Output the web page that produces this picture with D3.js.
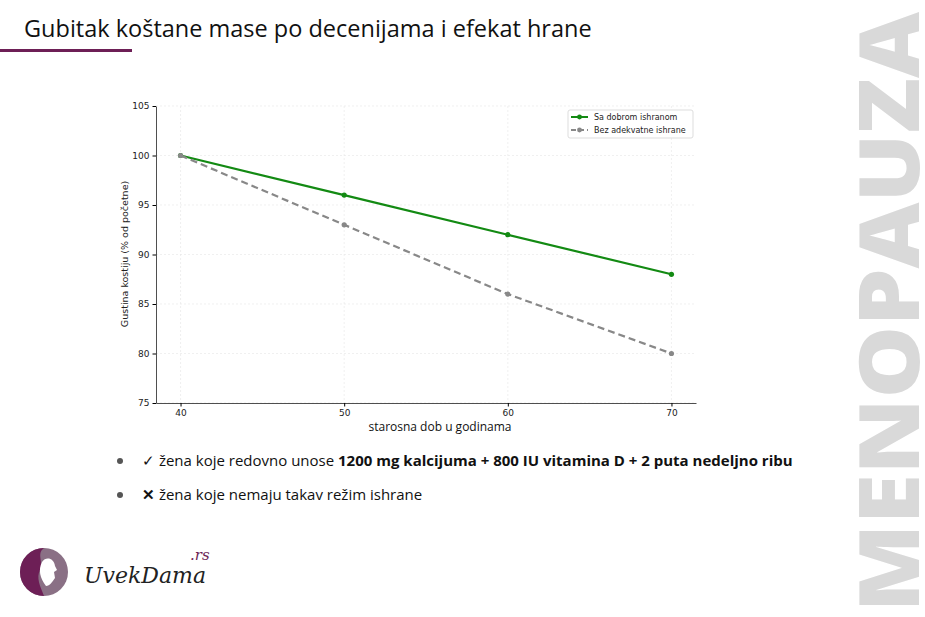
<!DOCTYPE html>
<html><head><meta charset="utf-8">
<script src="https://cdn.jsdelivr.net/npm/d3@7"></script>
<style>body{margin:0;background:#fff;font-family:"Open Sans",sans-serif}</style>
</head><body>
<svg id="c" width="925" height="617"></svg>
<script>
const ages = [40, 50, 60, 70];
const goodDiet = [100, 96, 92, 88];
const poorDiet = [100, 93, 86, 80];
const yTicks = [75, 80, 85, 90, 95, 100, 105];
const seriesNames = ["Sa dobrom ishranom", "Bez adekvatne ishrane"];

const svg = d3.select("#c");
const purple = "#6d1f56";

// header
svg.append("text").attr("x", 24).attr("y", 37).attr("font-size", 23.5).attr("fill", "#111")
  .text("Gubitak koštane mase po decenijama i efekat hrane");
svg.append("rect").attr("x", 0).attr("y", 49).attr("width", 132).attr("height", 3).attr("fill", purple);

// side word (bleeds off the right edge like the original)
svg.append("text").attr("transform", "translate(919,612) rotate(-90)")
  .attr("font-size", 84).attr("font-weight", 800).attr("fill", "#d9d9d9")
  .attr("font-family", "Open Sans").attr("textLength", 600).attr("lengthAdjust", "spacingAndGlyphs")
  .text("MENOPAUZA");

// chart
const x = d3.scaleLinear().domain([38.5, 71.5]).range([156, 696]);
const y = d3.scaleLinear().domain([75, 105]).range([403, 106]);
const g = svg.append("g").attr("font-family", "DejaVu Sans");

g.append("g").selectAll("line").data(yTicks).join("line")
  .attr("x1", 156).attr("x2", 696).attr("y1", d => y(d)).attr("y2", d => y(d))
  .attr("stroke", "#e6e6e6").attr("stroke-width", 0.6).attr("stroke-dasharray", "2,2");
g.append("g").selectAll("line").data(ages).join("line")
  .attr("x1", d => x(d)).attr("x2", d => x(d)).attr("y1", 106).attr("y2", 403)
  .attr("stroke", "#e6e6e6").attr("stroke-width", 0.6).attr("stroke-dasharray", "2,2");

const xa = g.append("g").attr("transform", "translate(0,403)")
  .call(d3.axisBottom(x).tickValues(ages).tickSize(3.5).tickSizeOuter(0));
const ya = g.append("g").attr("transform", "translate(156,0)")
  .call(d3.axisLeft(y).tickValues(yTicks).tickSize(3.5).tickSizeOuter(0));
[xa, ya].forEach(a => { a.selectAll("text").attr("font-size", 9).attr("fill", "#222").attr("font-family", "DejaVu Sans");
  a.select(".domain").attr("stroke", "#222").attr("stroke-width", 0.8); });
g.append("text").attr("x", 440).attr("y", 431).attr("text-anchor", "middle").attr("font-size", 12)
  .attr("font-family", "Open Sans").attr("fill", "#111").text("starosna dob u godinama");
g.append("text").attr("transform", "translate(128,254) rotate(-90)").attr("text-anchor", "middle")
  .attr("font-size", 9.5).attr("fill", "#222").text("Gustina kostiju (% od početne)");

const line = d3.line().x((d, i) => x(ages[i])).y(d => y(d));
const series = [
  {name: seriesNames[0], vals: goodDiet, color: "#138a13", dash: null},
  {name: seriesNames[1], vals: poorDiet, color: "#888", dash: "7,4"}
];
series.forEach(s => {
  g.append("path").datum(s.vals).attr("d", line).attr("fill", "none")
    .attr("stroke", s.color).attr("stroke-width", 2.2).attr("stroke-dasharray", s.dash);
  g.selectAll(null).data(s.vals).join("circle").attr("cx", (d, i) => x(ages[i])).attr("cy", d => y(d))
    .attr("r", 2.6).attr("fill", s.color);
});

// legend
const lg = g.append("g").attr("transform", "translate(568,110)");
lg.append("rect").attr("width", 125).attr("height", 28).attr("fill", "#fff").attr("stroke", "#ddd").attr("rx", 2);
series.forEach((s, i) => {
  const yy = 7 + i * 13;
  lg.append("line").attr("x1", 3).attr("x2", 20).attr("y1", yy).attr("y2", yy)
    .attr("stroke", s.color).attr("stroke-width", 2).attr("stroke-dasharray", s.dash ? "5,3" : null);
  lg.append("circle").attr("cx", 11.5).attr("cy", yy).attr("r", 2.4).attr("fill", s.color);
  lg.append("text").attr("x", 26).attr("y", yy + 3).attr("font-size", 8).attr("fill", "#222").text(s.name);
});

// bullets
const b1 = svg.append("text").attr("x", 142).attr("y", 466).attr("font-size", 15).attr("fill", "#111");
b1.append("tspan").text("✓ žena koje redovno unose ");
b1.append("tspan").attr("font-weight", 700).text("1200 mg kalcijuma + 800 IU vitamina D + 2 puta nedeljno ribu");
svg.append("text").attr("x", 142).attr("y", 500).attr("font-size", 15).attr("fill", "#111")
  .html('<tspan font-weight="700">✕</tspan> žena koje nemaju takav režim ishrane');
[461, 495].forEach(cy => svg.append("circle").attr("cx", 120).attr("cy", cy).attr("r", 3).attr("fill", "#555"));

// logo
const lo = svg.append("g").attr("transform", "translate(44,572)");
lo.append("circle").attr("r", 24).attr("fill", "#8a7085");
lo.append("path").attr("d", "M0,-24 A24,24 0 0,0 0,24 C-4,14 -8,6 -4,-2 C0,-10 -8,-18 0,-24Z").attr("fill", purple);
lo.append("path").attr("d", "M2,14 C-4,6 -6,-2 -2,-10 C2,-16 10,-14 11,-6 L13,-2 L10,0 L11,6 C8,10 6,14 2,14Z").attr("fill", "#fff");
svg.append("text").attr("x", 84).attr("y", 583).attr("font-family", "DejaVu Serif").attr("font-style", "italic")
  .attr("font-size", 22).attr("fill", "#222").text("UvekDama");
svg.append("text").attr("x", 190).attr("y", 560).attr("font-family", "DejaVu Serif").attr("font-style", "italic")
  .attr("font-size", 15).attr("fill", purple).text(".rs");
</script>
</body></html>
